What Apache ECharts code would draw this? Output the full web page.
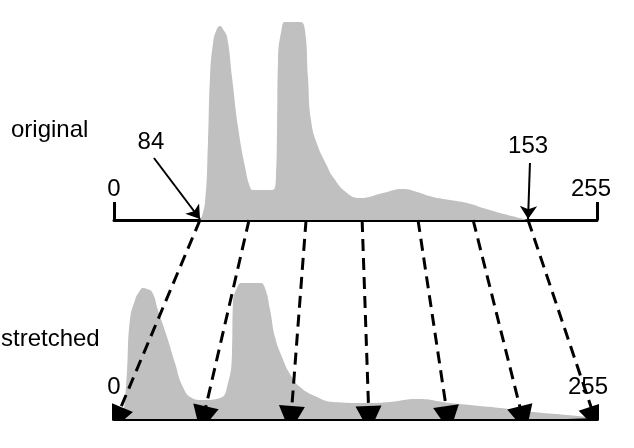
<!DOCTYPE html>
<html>
<head>
<meta charset="utf-8">
<script src="https://cdn.jsdelivr.net/npm/echarts@6/dist/echarts.min.js"></script>
<style>
html,body{margin:0;padding:0;background:#fff;}
#c{width:634px;height:448px;}
</style>
</head>
<body>
<div id="c"></div>
<script>
// ---- data (axis units: x 0..255 along the drawn axis, y = histogram height) ----
const axisRange = [0, 255];
const axisTickLabels = ['0', '255'];
const origX = [45.6, 48.0, 49.6, 50.7, 52.3, 54.1, 56.0, 57.8, 59.7, 62.3, 65.5, 69.2, 71.8, 73.4, 83.4, 85.5, 86.1, 86.6, 88.7, 90.3, 98.2, 100.8, 102.4, 104.0, 107.2, 112.5, 115.6, 123.0, 129.9, 142.0, 152.6, 160.0, 168.4, 186.4, 194.8, 203.8, 218.6];
const origY = [0, 17, 77, 143, 177, 190, 194, 190, 183, 143, 93, 53, 33, 30, 30, 43, 93, 160, 193, 198, 198, 190, 143, 100, 76, 54, 43, 27, 22, 27, 31, 28, 23, 17, 12, 7, 0];
const strX = [3.2, 5.3, 5.8, 6.9, 8.4, 11.1, 13.2, 15.3, 17.4, 20.1, 23.2, 28.0, 32.2, 36.4, 41.2, 46.5, 56.0, 59.7, 62.3, 62.8, 64.9, 67.6, 77.1, 79.7, 82.4, 85.0, 88.7, 92.9, 98.2, 107.2, 115.6, 133.6, 145.7, 160.0, 177.4, 203.8, 221.2, 239.2, 255];
const strY = [0, 12, 19, 49, 99, 119, 127, 131, 130, 127, 109, 82, 56, 32, 21, 19, 21, 32, 66, 116, 131, 136, 136, 131, 109, 82, 62, 45, 32, 22, 17, 16, 17, 20, 16, 11, 7, 4, 1];
const mapFrom = [45.4, 71.3, 101.4, 131.0, 160.5, 189.6, 218.6];
const mapTo = [1, 47.0, 93.4, 134.6, 176.3, 215.9, 254];
const lowLabel = '84';
const highLabel = '153';
const titleTop = 'original';
const titleBottom = 'stretched';

// ---- annotation placement (top grid units) ----
const annot = {
  low:  { text: [19.5, 78], from: [21.1, 62], to: [45.4, 1] },
  high: { text: [218.6, 74], from: [219.6, 57], to: [218.6, 1] }
};

const FONT = '"Liberation Sans", Arial, sans-serif';
const GRAY = '#c0c0c0';

function zip(a, b) { return a.map((v, i) => [v, b[i]]); }

const chart = echarts.init(document.getElementById('c'), null, { renderer: 'canvas' });

function xAxisCfg(gridIndex, showTick, margin, maxShift) {
  return {
    gridIndex, type: 'value', min: axisRange[0], max: axisRange[1], interval: axisRange[1] - axisRange[0],
    axisLine: { show: true, lineStyle: { color: '#000', width: 3 } },
    axisTick: { show: showTick, inside: true, length: 18, lineStyle: { color: '#000', width: 3 } },
    axisLabel: { show: true, inside: true, margin, color: '#000', fontSize: 24, fontFamily: FONT,
      formatter: v => v === axisRange[0] ? axisTickLabels[0] : '{r|' + axisTickLabels[1] + '}',
      rich: { r: { color: '#000', fontSize: 24, fontFamily: FONT, padding: [0, maxShift, 0, 0] } } },
    splitLine: { show: false }
  };
}
function hiddenY(gridIndex, max) {
  return { gridIndex, type: 'value', min: 0, max, show: false, splitLine: { show: false } };
}

const option = {
  backgroundColor: '#fff',
  animation: false,
  grid: [
    { left: 114, right: 37, top: 20, height: 200 },
    { left: 114, right: 37, top: 219, height: 200 },
    { left: 114, right: 37, top: 220, height: 199 }
  ],
  xAxis: [
    xAxisCfg(0, true, 19, 12),
    xAxisCfg(1, false, 20, 18),
    { gridIndex: 2, type: 'value', min: axisRange[0], max: axisRange[1], show: false }
  ],
  yAxis: [hiddenY(0, 200), hiddenY(1, 200), hiddenY(2, 1)],
  graphic: [
    { type: 'text', left: 11, top: 118, style: { text: titleTop, font: '24px ' + FONT, fill: '#000' } },
    { type: 'text', left: 1, top: 327, style: { text: titleBottom, font: '24px ' + FONT, fill: '#000' } }
  ],
  series: [
    {
      type: 'line', xAxisIndex: 0, yAxisIndex: 0, data: zip(origX, origY),
      smooth: 0.5, symbol: 'none', lineStyle: { width: 0 },
      areaStyle: { color: GRAY, opacity: 1 }, z: 1
    },
    {
      type: 'line', xAxisIndex: 1, yAxisIndex: 1, data: zip(strX, strY),
      smooth: 0.5, symbol: 'none', lineStyle: { width: 0 },
      areaStyle: { color: GRAY, opacity: 1 }, z: 1
    },
    {
      type: 'lines', coordinateSystem: 'cartesian2d', xAxisIndex: 0, yAxisIndex: 0,
      symbol: ['none', 'arrow'], symbolSize: 13,
      lineStyle: { color: '#000', width: 2, opacity: 1 },
      data: [
        { coords: [annot.low.from, annot.low.to] },
        { coords: [annot.high.from, annot.high.to] }
      ], z: 5
    },
    {
      type: 'scatter', xAxisIndex: 0, yAxisIndex: 0, symbolSize: 0,
      itemStyle: { opacity: 1 },
      label: { show: true, position: 'inside', color: '#000', opacity: 1, fontSize: 24, fontFamily: FONT,
        formatter: p => p.value[2] },
      data: [
        [annot.low.text[0], annot.low.text[1], lowLabel],
        [annot.high.text[0], annot.high.text[1], highLabel]
      ], z: 5
    },
    {
      type: 'lines', coordinateSystem: 'cartesian2d', xAxisIndex: 2, yAxisIndex: 2,
      symbol: ['none', 'triangle'], symbolSize: 26,
      lineStyle: { color: '#000', width: 3, type: [12, 7], opacity: 1 },
      data: mapFrom.map((f, i) => ({ coords: [[f, 1], [mapTo[i], 0]] })),
      z: 10
    }
  ]
};
chart.setOption(option);
</script>
</body>
</html>
